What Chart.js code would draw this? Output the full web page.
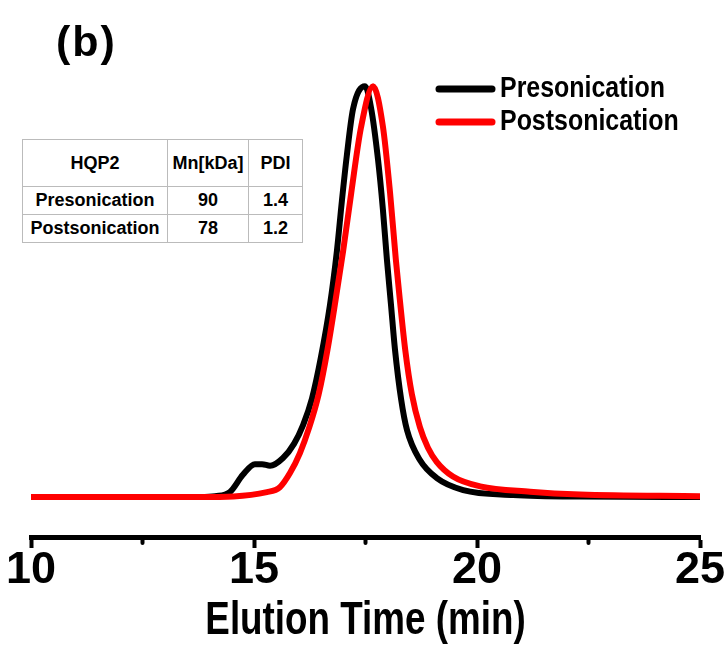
<!DOCTYPE html>
<html>
<head>
<meta charset="utf-8">
<script src="https://cdn.jsdelivr.net/npm/chart.js@4"></script>
<style>
	body { margin: 0; background: #fff; }
	#wrap { position: relative; width: 728px; height: 646px; }
	#panel {
		position: absolute; left: 56px; top: 17px; letter-spacing: 2px;
		font: bold 43px "Liberation Sans", Arial, sans-serif; color: #000;
	}
	#info {
		position: absolute; left: 22px; top: 139px;
		border-collapse: collapse; border: 1px solid #555;
		font: bold 18px "Liberation Sans", Arial, sans-serif; color: #000;
		background: #fff;
	}
	#info td { border: 1px solid #bbb; text-align: center; padding: 0 2px; }
	#info tr:first-child td { height: 46px; }
	#info tr td { height: 27px; }
</style>
</head>
<body>
<div id="wrap">
	<canvas id="gpc" width="728" height="646"></canvas>
	<div id="panel">(b)</div>
	<table id="info"></table>
</div>
<script>
// elution time (min) and normalised detector signal
const preTime = [10, 13.79, 14.13, 14.46, 14.75, 15.02, 15.18, 15.36, 15.65, 15.9, 16.1, 16.3, 16.5, 16.7, 16.86, 16.97, 17.08, 17.22, 17.49, 17.62, 17.78, 17.89, 17.98, 18.07, 18.16, 18.3, 18.43, 18.72, 19.1, 19.69, 20.81, 22.31, 25];
const preSignal = [0, 0, 0.002, 0.012, 0.054, 0.08, 0.08, 0.076, 0.095, 0.13, 0.175, 0.24, 0.34, 0.465, 0.6, 0.72, 0.83, 0.944, 1.0, 0.95, 0.822, 0.7, 0.578, 0.47, 0.36, 0.237, 0.163, 0.09, 0.046, 0.017, 0.005, 0.001, 0];

const postTime = [10, 13.79, 15.29, 15.58, 15.81, 16.03, 16.24, 16.45, 16.65, 16.83, 17.0, 17.18, 17.4, 17.67, 17.89, 18.05, 18.18, 18.27, 18.39, 18.54, 18.72, 18.9, 19.1, 19.46, 20.07, 21.19, 22.31, 25];
const postSignal = [0, 0, 0.012, 0.024, 0.059, 0.107, 0.17, 0.25, 0.36, 0.48, 0.6, 0.74, 0.9, 1.0, 0.902, 0.741, 0.578, 0.48, 0.359, 0.25, 0.17, 0.12, 0.085, 0.05, 0.026, 0.013, 0.006, 0.002];

const seriesNames = ["Presonication", "Postsonication"];
const seriesColors = ["#000000", "#ff0000"];

const tableHeader = ["HQP2", "Mn[kDa]", "PDI"];
const tableMn = [90, 78];
const tablePdi = ["1.4", "1.2"];

const minorTicks = [12.5, 17.5, 22.5];
const axisTitle = "Elution Time (min)";

const sans = "'Liberation Sans', Arial, sans-serif";

// inset table
const tbl = document.getElementById("info");
let html = "<tr>" + tableHeader.map((t, i) => `<td style="width:${[140, 76, 49][i]}px">${t}</td>`).join("") + "</tr>";
for (let i = 0; i < seriesNames.length; i++) {
	html += `<tr><td>${seriesNames[i]}</td><td>${tableMn[i]}</td><td>${tablePdi[i]}</td></tr>`;
}
tbl.innerHTML = html;

const toPoints = (xs, ys) => xs.map((x, i) => ({ x: x, y: ys[i] }));

// narrow bold text (no Arial Narrow installed, so squeeze it)
function narrowText(ctx, text, x, y, size, squeeze, align) {
	ctx.save();
	ctx.translate(x, y);
	ctx.scale(squeeze, 1);
	ctx.font = "bold " + size + "px " + sans;
	ctx.textAlign = align;
	ctx.textBaseline = "alphabetic";
	ctx.fillStyle = "#000";
	ctx.fillText(text, 0, 0);
	ctx.restore();
}

const extras = {
	id: "extras",
	afterDraw(chart) {
		const ctx = chart.ctx;
		const xs = chart.scales.x;
		ctx.save();
		// minor ticks, shorter than the major ones
		ctx.strokeStyle = "#000";
		ctx.lineWidth = 4;
		ctx.lineCap = "round";
		minorTicks.forEach(v => {
			const px = xs.getPixelForValue(v);
			ctx.beginPath();
			ctx.moveTo(px, xs.top);
			ctx.lineTo(px, xs.top + 6);
			ctx.stroke();
		});
		// legend
		ctx.lineWidth = 7;
		seriesNames.forEach((name, i) => {
			const y = 89 + i * 33;
			ctx.strokeStyle = seriesColors[i];
			ctx.beginPath();
			ctx.moveTo(439, y);
			ctx.lineTo(492, y);
			ctx.stroke();
			narrowText(ctx, name, 500, y + 8, 29, 0.86, "left");
		});
		ctx.restore();
		// axis title
		narrowText(ctx, axisTitle, (xs.left + xs.right) / 2, 634, 46, 0.8, "center");
	}
};

new Chart(document.getElementById("gpc"), {
	type: "line",
	data: {
		datasets: [
			{
				label: seriesNames[0],
				data: toPoints(preTime, preSignal),
				borderColor: seriesColors[0],
				borderWidth: 6,
				pointRadius: 0,
				cubicInterpolationMode: "monotone",
				fill: false,
				order: 2
			},
			{
				label: seriesNames[1],
				data: toPoints(postTime, postSignal),
				borderColor: seriesColors[1],
				borderWidth: 6,
				pointRadius: 0,
				cubicInterpolationMode: "monotone",
				fill: false,
				order: 1
			}
		]
	},
	plugins: [extras],
	options: {
		responsive: false,
		animation: false,
		layout: { padding: { left: 31, right: 28, top: 20, bottom: 53 } },
		plugins: {
			legend: { display: false },
			tooltip: { enabled: false }
		},
		scales: {
			x: {
				type: "linear",
				min: 10,
				max: 25,
				border: { display: true, color: "#000", width: 5 },
				grid: { drawOnChartArea: false, drawTicks: true, tickLength: 11, tickWidth: 4, tickColor: "#000" },
				ticks: {
					stepSize: 5,
					autoSkip: false,
					maxRotation: 0,
					padding: 0,
					color: "#000",
					font: { family: sans, size: 45, weight: "bold", lineHeight: 1 }
				}
			},
			y: {
				display: false,
				min: -0.0973,
				max: 1.161
			}
		}
	}
});
</script>
</body>
</html>
